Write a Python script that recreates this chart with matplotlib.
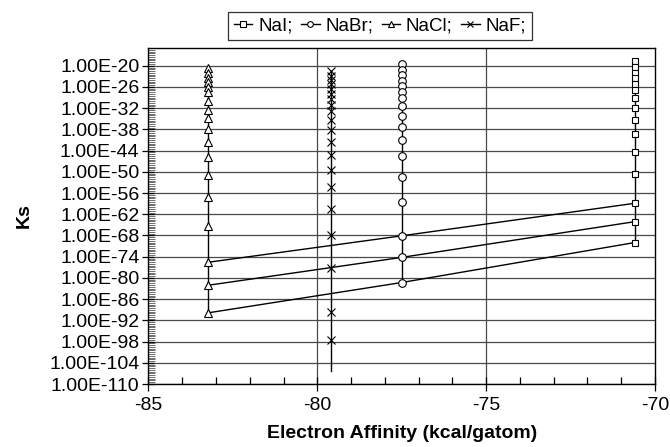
import matplotlib.pyplot as plt
import numpy as np
from matplotlib.ticker import FixedLocator, FuncFormatter, MultipleLocator, NullFormatter

plt.rcParams['font.family'] = ['Liberation Sans', 'DejaVu Sans']
plt.rcParams['axes.unicode_minus'] = False

# electron affinity (kcal/gatom) of each halide column
ea_nai = -70.6
ea_nabr = -77.5
ea_nacl = -83.25
ea_naf = -79.6

# log10(Ks), top to bottom
log_ks_nai = [-18.8, -20.4, -22.0, -23.5, -25.1, -26.8, -29.1, -32.0, -35.3,
              -39.3, -44.3, -50.6, -58.9, -64.1, -70.0]
log_ks_nabr = [-19.6, -21.1, -22.7, -24.3, -25.8, -27.4, -29.2, -31.3, -34.2,
               -37.3, -41.1, -45.5, -51.4, -58.6, -68.1, -74.2, -81.3]
log_ks_nacl = [-20.7, -22.1, -23.4, -24.7, -25.9, -27.4, -30.1, -32.5, -34.8,
               -37.9, -41.7, -45.7, -50.9, -57.2, -65.3, -75.6, -82.1, -89.9]
log_ks_naf = [-21.6, -22.8, -24.0, -25.2, -26.5, -27.9, -29.5, -31.2, -32.9,
              -35.3, -38.1, -41.7, -45.3, -49.4, -54.3, -60.5, -67.8, -77.3,
              -89.6, -97.6, -106.3]

fig = plt.figure(figsize=(6.7, 4.47), dpi=100)
ax = fig.add_axes([0.2216, 0.1409, 0.7560, 0.7517])

grid_c = '#4a4a4a'
ax.set_xlim(-85, -70)
ax.set_ylim(1e-110, 1e-15)
ax.set_yscale('log')

major_y = 10.0 ** np.arange(-110, -19, 6)
ax.yaxis.set_major_locator(FixedLocator(major_y))
ax.yaxis.set_major_formatter(FuncFormatter(lambda v, p: '1.00E%d' % round(np.log10(v))))
minor_y = [10.0 ** e * s for e in range(-110, -15) for s in (1, 3)]
ax.yaxis.set_minor_locator(FixedLocator(minor_y))
ax.yaxis.set_minor_formatter(NullFormatter())
ax.xaxis.set_major_locator(MultipleLocator(5))
ax.xaxis.set_minor_locator(MultipleLocator(1))

for v in major_y:
    ax.axhline(v, color=grid_c, lw=0.9, zorder=1)
for v in [-80, -75]:
    ax.axvline(v, color=grid_c, lw=0.9, zorder=1)

mk = dict(color='black', lw=1.0, markerfacecolor='white', markeredgecolor='black',
          markeredgewidth=0.8, zorder=3)
ax.plot([ea_nai] * len(log_ks_nai), 10.0 ** np.array(log_ks_nai), marker='s',
        ms=5, label='NaI;', **mk)
ax.plot([ea_nabr] * len(log_ks_nabr), 10.0 ** np.array(log_ks_nabr), marker='o',
        ms=5.5, label='NaBr;', **mk)
ax.plot([ea_nacl] * len(log_ks_nacl), 10.0 ** np.array(log_ks_nacl), marker='^',
        ms=5.5, label='NaCl;', **mk)
ax.plot([ea_naf] * len(log_ks_naf), 10.0 ** np.array(log_ks_naf), marker='x',
        ms=5.5, markevery=list(range(len(log_ks_naf) - 1)), label='NaF;', **mk)

# lines joining the three lowest points of NaCl, NaBr and NaI
for k in (1, 2, 3):
    xs = [ea_nacl, ea_nabr, ea_nai]
    ys = [log_ks_nacl[-k], log_ks_nabr[-k], log_ks_nai[-k]]
    ax.plot(xs, 10.0 ** np.array(ys), color='black', lw=1.0, zorder=2)

for s in ax.spines.values():
    s.set_color('black')
    s.set_linewidth(1.0)

ax.tick_params(axis='y', which='major', direction='inout', length=9, width=0.9,
               labelsize=14, pad=2)
ax.tick_params(axis='y', which='minor', direction='in', length=5, width=0.6,
               colors='#555555')
ax.tick_params(axis='x', which='major', direction='inout', length=10, width=0.9,
               labelsize=14, pad=4)
ax.tick_params(axis='x', which='minor', direction='in', length=5, width=0.9)

ax.set_xlabel('Electron Affinity (kcal/gatom)', fontsize=14, fontweight='bold',
              labelpad=8)
ax.set_ylabel('Ks', fontsize=14, fontweight='bold', labelpad=12)

leg = fig.legend(loc='upper left', bbox_to_anchor=(228 / 670, 1 - 12 / 447), ncol=4,
                 fontsize=13.5, frameon=True, fancybox=False, handlelength=1.0,
                 handletextpad=0.3, columnspacing=0.45, borderpad=0.3,
                 borderaxespad=0.0, markerscale=0.75)
leg.get_frame().set_edgecolor('black')
leg.get_frame().set_linewidth(0.9)

plt.savefig('out.png', dpi=100)
